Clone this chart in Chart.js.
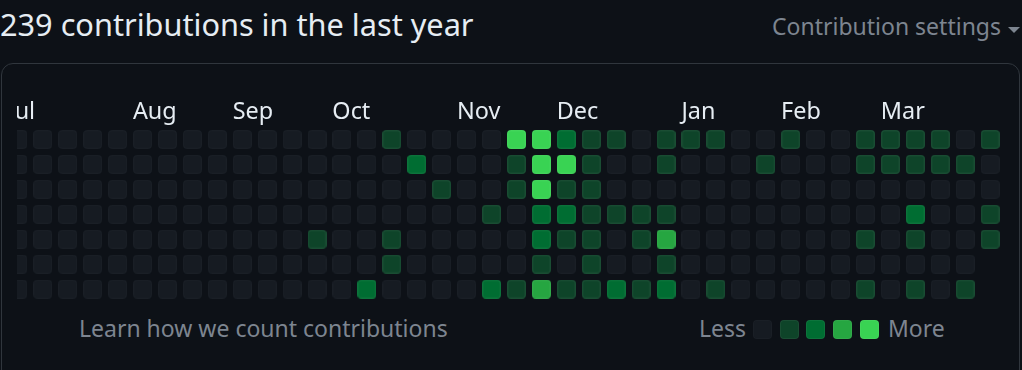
<!DOCTYPE html>
<html>
<head>
<meta charset="utf-8">
<script src="https://cdn.jsdelivr.net/npm/chart.js@4/dist/chart.umd.min.js"></script>
<style>
  html, body { margin: 0; padding: 0; background: #0d1117; width: 1022px; height: 370px; overflow: hidden; font-family: "Noto Sans", sans-serif; }
  .t { position: absolute; white-space: nowrap; line-height: 1; }
  #title { left: 0; top: 9.4px; font-size: 30.7px; color: #e6edf3; }
  #settings { left: 772px; top: 14.6px; font-size: 23px; color: #7d8590; }
  #caret { position: absolute; left: 1008px; top: 27px; width: 0; height: 0; border-left: 6px solid transparent; border-right: 6px solid transparent; border-top: 6px solid #7d8590; }
  #card { position: absolute; left: 1px; top: 63px; width: 1017px; height: 400px; border: 1px solid #30363d; border-radius: 12px; }
  #wrap { position: absolute; left: 17px; top: 90px; width: 1000px; height: 215px; overflow: hidden; }
  #chart { position: absolute; left: -17px; top: 0; }
  #learn { left: 79px; top: 317.3px; font-size: 23px; color: #7d8590; }
  #less { left: 699px; top: 316.9px; font-size: 23px; color: #7d8590; }
  #more { left: 888px; top: 316.9px; font-size: 23px; color: #7d8590; }
  .sw { position: absolute; top: 319.5px; width: 19px; height: 19px; border-radius: 4px; box-sizing: border-box; border: 1.5px solid rgba(255,255,255,0.05); }
</style>
</head>
<body>
<div id="card"></div>
<div class="t" id="title">239 contributions in the last year</div>
<div class="t" id="settings">Contribution settings</div>
<div id="caret"></div>
<div id="wrap"><canvas id="chart" width="1017" height="215" style="width:1017px;height:215px"></canvas></div>
<div class="t" id="learn">Learn how we count contributions</div>
<div class="t" id="less">Less</div>
<div class="t" id="more">More</div>
<div id="legend"></div>
<script>
// Contribution levels (0-4) per weekday row, one value per week column
const sun = [0,0,0,0,0,0,0,0,0,0, 0,0,0,0,0,1,0,0,0,0, 4,4,2,1,1,0,1,1,1,0, 0,1,0,0,1,1,1,1,0,1];
const mon = [0,0,0,0,0,0,0,0,0,0, 0,0,0,0,0,0,2,0,0,0, 1,4,4,1,0,0,1,0,0,0, 1,0,0,0,1,1,1,1,1,0];
const tue = [0,0,0,0,0,0,0,0,0,0, 0,0,0,0,0,0,0,1,0,0, 1,4,1,1,0,0,0,0,0,0, 0,0,0,0,0,0,0,0,0,0];
const wed = [0,0,0,0,0,0,0,0,0,0, 0,0,0,0,0,0,0,0,0,1, 0,2,2,1,1,1,1,0,0,0, 0,0,0,0,0,0,2,0,0,1];
const thu = [0,0,0,0,0,0,0,0,0,0, 0,0,1,0,0,1,0,0,0,0, 0,2,1,1,0,1,3,0,0,0, 0,0,0,0,1,0,1,0,0,1];
const fri = [0,0,0,0,0,0,0,0,0,0, 0,0,0,0,0,1,0,0,0,0, 0,1,0,1,0,0,1,0,0,0, 0,0,0,0,0,0,0,0,0];
const sat = [0,0,0,0,0,0,0,0,0,0, 0,0,0,0,2,0,0,0,0,2, 1,3,1,1,2,1,2,0,1,0, 0,0,0,0,1,0,1,0,1];

const monthLabels = ["Jul","Aug","Sep","Oct","Nov","Dec","Jan","Feb","Mar"];
const monthCols   = [0, 5, 9, 13, 18, 22, 27, 31, 35];

const levelColors = ["#161b22", "#0e4429", "#006d32", "#26a641", "#39d353"];
const levelBorders = ["rgba(255,255,255,0.02)", "rgba(255,255,255,0.05)", "rgba(255,255,255,0.05)", "rgba(255,255,255,0.05)", "rgba(255,255,255,0.05)"];

const rows = [sun, mon, tue, wed, thu, fri, sat];
const CELL = 19;
const RADIUS = 4;

function roundRectPath(ctx, x, y, w, h, r) {
  ctx.beginPath();
  ctx.moveTo(x + r, y);
  ctx.lineTo(x + w - r, y);
  ctx.arcTo(x + w, y, x + w, y + r, r);
  ctx.lineTo(x + w, y + h - r);
  ctx.arcTo(x + w, y + h, x + w - r, y + h, r);
  ctx.lineTo(x + r, y + h);
  ctx.arcTo(x, y + h, x, y + h - r, r);
  ctx.lineTo(x, y + r);
  ctx.arcTo(x, y, x + r, y, r);
  ctx.closePath();
}
function makeCell(fill, border) {
  const c = document.createElement('canvas');
  c.width = CELL; c.height = CELL;
  const g = c.getContext('2d');
  roundRectPath(g, 0, 0, CELL, CELL, RADIUS);
  g.fillStyle = fill; g.fill();
  roundRectPath(g, 0.75, 0.75, CELL - 1.5, CELL - 1.5, RADIUS - 0.75);
  g.lineWidth = 1.5; g.strokeStyle = border; g.stroke();
  return c;
}

const datasets = levelColors.map((col, lvl) => {
  const pts = [];
  rows.forEach((row, r) => row.forEach((v, c) => { if (v === lvl) pts.push({x: c, y: r}); }));
  return {
    label: 'L' + lvl,
    data: pts,
    pointStyle: makeCell(col, levelBorders[lvl]),
    pointRadius: 10,
    pointHoverRadius: 10,
    showLine: false,
    backgroundColor: col,
    borderColor: col,
    clip: false
  };
});

// Legend swatches
const legend = document.getElementById('legend');
levelColors.forEach((col, i) => {
  const d = document.createElement('div');
  d.className = 'sw';
  d.style.left = (753 + i * 26.7) + 'px';
  d.style.background = col;
  if (i === 0) d.style.borderColor = 'rgba(255,255,255,0.02)';
  legend.appendChild(d);
});

const COLW = 24.93;
const colLeftOffset = 9.6 / COLW;

new Chart(document.getElementById('chart'), {
  type: 'scatter',
  data: { datasets },
  options: {
    responsive: false,
    animation: false,
    devicePixelRatio: 1,
    layout: { autoPadding: false, padding: { left: 17, right: 5, top: 6.92, bottom: 3.4 } },
    plugins: { legend: { display: false }, tooltip: { enabled: false } },
    events: [],
    scales: {
      x: {
        type: 'linear',
        position: 'top',
        min: -0.035,
        max: 39.877,
        grid: { display: false, drawTicks: false },
        border: { display: false },
        afterBuildTicks: (axis) => { axis.ticks = monthCols.map(c => ({ value: c - colLeftOffset })); },
        ticks: {
          autoSkip: false,
          maxRotation: 0,
          minRotation: 0,
          align: 'start',
          padding: 1,
          color: '#e6edf3',
          font: { family: '"Noto Sans"', size: 23.4, lineHeight: 1.2 },
          callback: (value, index) => monthLabels[index]
        }
      },
      y: {
        type: 'linear',
        display: false,
        min: -0.5,
        max: 6.5,
        reverse: true
      }
    }
  }
});
</script>
</body>
</html>
